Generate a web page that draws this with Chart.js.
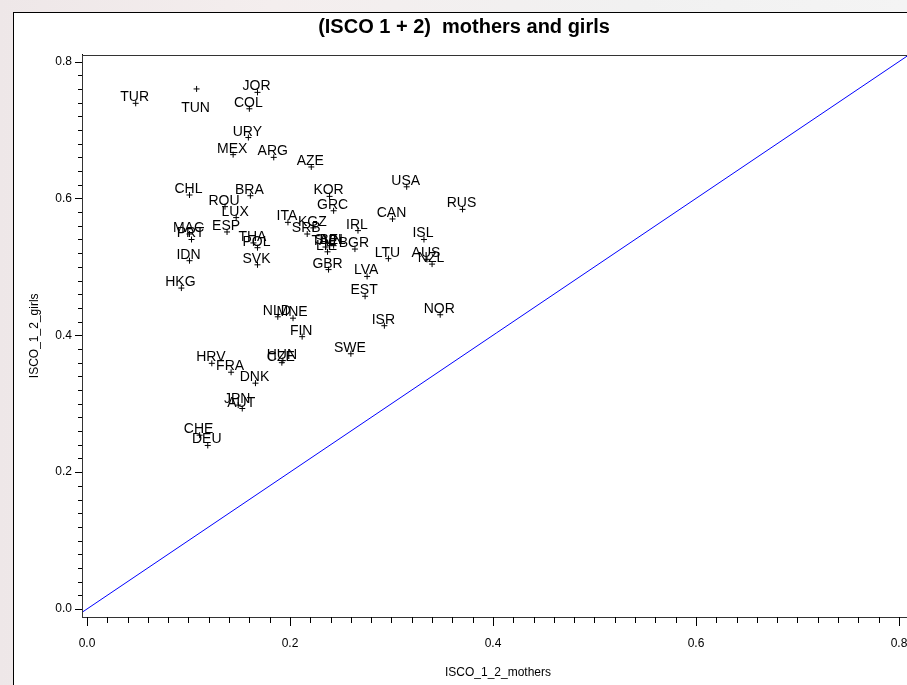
<!DOCTYPE html>
<html>
<head>
<meta charset="utf-8">
<title>ISCO 1+2 mothers and girls</title>
<script src="https://cdn.jsdelivr.net/npm/chart.js@4.4.1/dist/chart.umd.min.js"></script>
<style>
  html, body { margin: 0; padding: 0; overflow: hidden; }
  body {
    width: 907px; height: 685px; position: relative;
    background: linear-gradient(90deg, #eee7e8 0, #f4eeee 30%, #f1f1f1 70%, #f4f4f4 100%);
  }
  .frame {
    position: absolute; left: 13px; top: 12px; width: 930px; height: 700px;
    background: #fff; border-left: 1px solid #000; border-top: 1px solid #000;
  }
  .frame canvas { position: absolute; left: 0; top: 0; }
</style>
</head>
<body>
<div class="frame">
  <canvas id="isco" width="905" height="672"></canvas>
</div>
<script>
// share of ISCO 1+2 occupations: mothers (x) vs girls' expectations (y)
const countries = [
  "TUR", "TUN", "JOR", "COL", "URY", "MEX", "ARG", "AZE", "CHL", "BRA",
  "ROU", "LUX", "ESP", "MAC", "PRT", "IDN", "HKG", "THA", "POL", "SVK",
  "KOR", "GRC", "USA", "RUS", "CAN", "IRL", "ISL", "ITA", "KGZ", "SRB",
  "TAP", "SVN", "BEL", "LIE", "BGR", "LTU", "AUS", "NZL", "GBR", "LVA",
  "EST", "NOR", "ISR", "NLD", "MNE", "FIN", "SWE", "CZE", "HUN", "HRV",
  "FRA", "DNK", "JPN", "AUT", "CHE", "DEU"
];
const mothers = [
  0.048, 0.108, 0.168, 0.160, 0.159, 0.144, 0.184, 0.221, 0.101, 0.161,
  0.136, 0.147, 0.138, 0.101, 0.103, 0.101, 0.093, 0.164, 0.168, 0.168,
  0.239, 0.243, 0.315, 0.370, 0.301, 0.267, 0.332, 0.198, 0.223, 0.217,
  0.235, 0.239, 0.243, 0.237, 0.264, 0.297, 0.335, 0.340, 0.238, 0.276,
  0.274, 0.348, 0.293, 0.188, 0.203, 0.212, 0.260, 0.192, 0.193, 0.123,
  0.142, 0.166, 0.149, 0.153, 0.111, 0.119
];
const girls = [
  0.739, 0.760, 0.755, 0.731, 0.689, 0.664, 0.660, 0.646, 0.605, 0.604,
  0.588, 0.572, 0.551, 0.548, 0.540, 0.509, 0.469, 0.535, 0.528, 0.503,
  0.603, 0.582, 0.617, 0.584, 0.570, 0.553, 0.540, 0.565, 0.557, 0.548,
  0.529, 0.531, 0.531, 0.522, 0.526, 0.512, 0.511, 0.504, 0.496, 0.486,
  0.457, 0.430, 0.414, 0.427, 0.425, 0.398, 0.373, 0.360, 0.363, 0.359,
  0.346, 0.330, 0.298, 0.293, 0.254, 0.239
];
const xTicks = [0, 0.2, 0.4, 0.6, 0.8];
const yTicks = [0, 0.2, 0.4, 0.6, 0.8];
const equalLine = [-0.05, 0.9];   // y = x

const labelBelow = ["TUN"];
const MINOR_PER_MAJOR = 10;

const axisTicks = {
  id: "axisTicks",
  afterDraw(chart) {
    const { ctx, chartArea: a, scales: { x, y } } = chart;
    ctx.save();
    ctx.lineWidth = 1;
    // plot frame
    ctx.strokeStyle = "#333";
    ctx.strokeRect(Math.round(a.left) + 0.5, Math.round(a.top) + 0.5,
      Math.round(a.right - a.left), Math.round(a.bottom - a.top));
    ctx.strokeStyle = "#000";
    ctx.beginPath();
    const xs = xTicks[1] - xTicks[0];
    for (let i = 0; i < xTicks.length; i++) {
      for (let k = 0; k < MINOR_PER_MAJOR; k++) {
        const v = xTicks[i] + xs * k / MINOR_PER_MAJOR;
        if (v > x.max) break;
        const px = Math.round(x.getPixelForValue(v)) + 0.5;
        ctx.moveTo(px, a.bottom);
        ctx.lineTo(px, a.bottom + (k === 0 ? 9 : 6));
      }
    }
    const ys = yTicks[1] - yTicks[0];
    for (let i = 0; i < yTicks.length; i++) {
      for (let k = 0; k < MINOR_PER_MAJOR; k++) {
        const v = yTicks[i] + ys * k / MINOR_PER_MAJOR;
        if (v > y.max) break;
        const py = Math.round(y.getPixelForValue(v)) + 0.5;
        ctx.moveTo(a.left, py);
        ctx.lineTo(a.left - (k === 0 ? 7 : 4), py);
      }
    }
    ctx.stroke();
    ctx.restore();
  }
};

const countryLabels = {
  id: "countryLabels",
  afterDatasetsDraw(chart) {
    const { ctx } = chart;
    const meta = chart.getDatasetMeta(0);
    ctx.save();
    ctx.font = '14px "Liberation Sans", Arial, sans-serif';
    ctx.fillStyle = "#000";
    ctx.textAlign = "center";
    ctx.textBaseline = "alphabetic";
    meta.data.forEach((pt, i) => {
      const name = countries[i];
      const ty = labelBelow.includes(name) ? pt.y + 23 : pt.y - 2;
      ctx.fillText(name, pt.x - 1, ty);
    });
    ctx.restore();
  }
};

const tickFont = { family: '"Liberation Sans", Arial, sans-serif', size: 12 };

new Chart(document.getElementById("isco"), {
  type: "scatter",
  data: {
    datasets: [
      {
        label: "countries",
        data: countries.map((c, i) => ({ x: mothers[i], y: girls[i] })),
        pointStyle: "cross",
        pointRadius: 3,
        borderColor: "#000",
        borderWidth: 1,
        order: 0
      },
      {
        label: "equal",
        type: "line",
        data: equalLine.map(v => ({ x: v, y: v })),
        borderColor: "#0000ff",
        borderWidth: 1,
        pointRadius: 0,
        fill: false,
        order: 1
      }
    ]
  },
  options: {
    responsive: false,
    animation: false,
    devicePixelRatio: 1,
    layout: { padding: { top: 0, right: 5, bottom: 0, left: 0 } },
    plugins: {
      legend: { display: false },
      tooltip: { enabled: false },
      title: {
        display: true,
        text: "(ISCO 1 + 2)  mothers and girls",
        color: "#000",
        font: { family: '"Liberation Sans", Arial, sans-serif', size: 20, weight: "bold" },
        padding: { top: 2, bottom: 15.6 }
      }
    },
    scales: {
      x: {
        type: "linear",
        min: -0.0049,
        max: 0.8148,
        afterBuildTicks: s => { s.ticks = xTicks.map(v => ({ value: v })); },
        afterFit: s => { s.height = 68; s.paddingLeft = 0; s.paddingRight = 0; },
        grid: { display: false, drawTicks: false },
        border: { display: true, color: "#000", width: 1 },
        ticks: { color: "#000", font: tickFont, padding: 19, maxRotation: 0,
                 callback: v => v.toFixed(1) },
        title: { display: true, text: "ISCO_1_2_mothers", color: "#000", font: tickFont,
                 padding: { top: 0, bottom: 4.8 } }
      },
      y: {
        type: "linear",
        min: -0.0117,
        max: 0.8102,
        afterBuildTicks: s => { s.ticks = yTicks.map(v => ({ value: v })); },
        afterFit: s => { s.width = 68; s.paddingTop = 0; s.paddingBottom = 0; },
        grid: { display: false, drawTicks: false },
        border: { display: true, color: "#000", width: 1 },
        ticks: { color: "#000", font: tickFont, padding: 10,
                 callback: v => v.toFixed(1) },
        title: { display: true, text: "ISCO_1_2_girls", color: "#000", font: tickFont,
                 padding: { top: 13.5, bottom: 0 } }
      }
    }
  },
  plugins: [axisTicks, countryLabels]
});
</script>
</body>
</html>
